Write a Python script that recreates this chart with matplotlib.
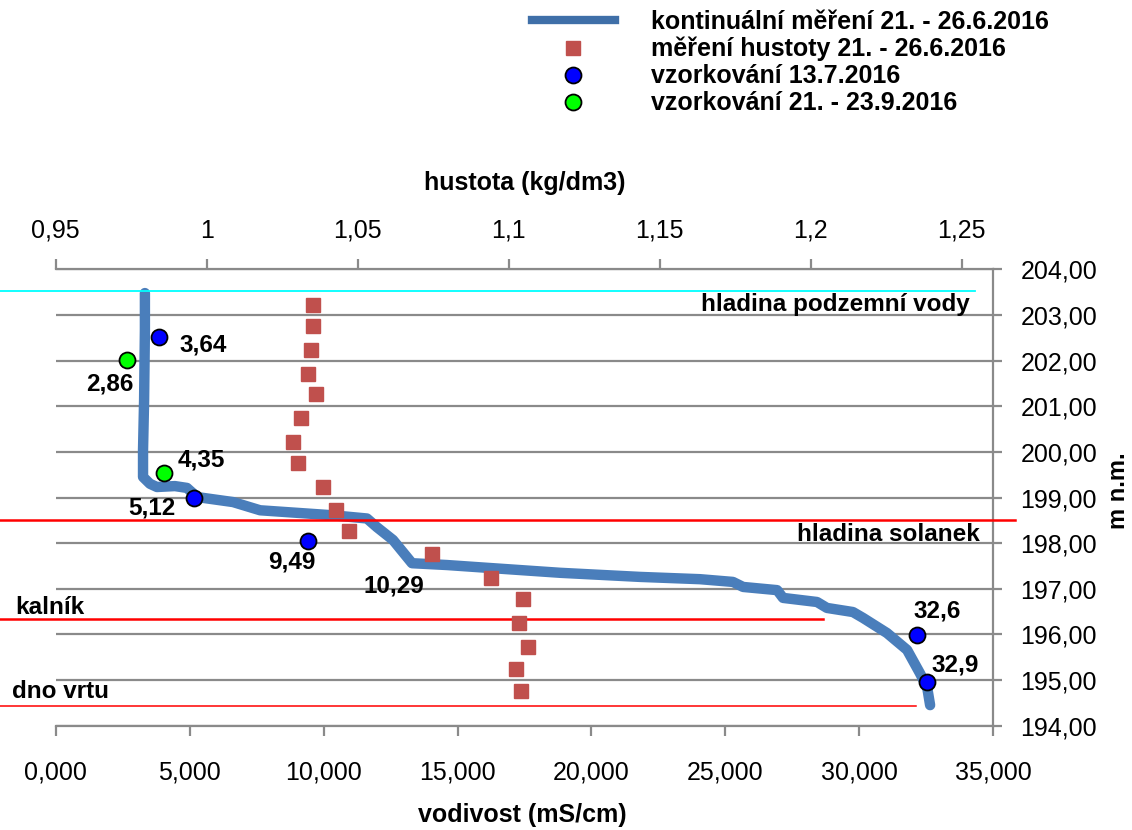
import matplotlib
matplotlib.use('Agg')
import matplotlib.pyplot as plt
from matplotlib.lines import Line2D
from matplotlib.ticker import FuncFormatter, MultipleLocator

# continuous conductivity log (mS/cm) vs elevation (m n.m.)
cond_x = [3.33, 3.33, 3.30, 3.26, 3.26, 3.52, 3.78, 4.45, 4.90, 5.28, 6.62, 7.63,
          10.35, 11.62, 11.99, 12.59, 13.30, 14.61, 15.84, 18.83, 21.81, 24.05,
          25.28, 25.66, 26.93, 27.15, 28.42, 28.79, 29.76, 30.14, 31.03, 31.78,
          32.26, 32.53, 32.64]
cond_y = [203.48, 202.67, 201.14, 200.04, 199.45, 199.30, 199.23, 199.25, 199.21,
          199.01, 198.90, 198.72, 198.61, 198.54, 198.35, 198.07, 197.56, 197.52,
          197.47, 197.35, 197.26, 197.21, 197.15, 197.04, 196.97, 196.80, 196.71,
          196.58, 196.49, 196.36, 196.03, 195.66, 195.15, 194.84, 194.45]

# density (kg/dm3)
dens_x = [1.0352, 1.0352, 1.0345, 1.0335, 1.0362, 1.0312, 1.0286, 1.0302, 1.0385,
          1.0428, 1.0471, 1.0746, 1.0941, 1.1047, 1.1034, 1.1064, 1.1024, 1.1040]
dens_y = [203.22, 202.76, 202.23, 201.71, 201.27, 200.74, 200.22, 199.76, 199.24,
          198.73, 198.27, 197.76, 197.24, 196.78, 196.26, 195.73, 195.24, 194.76]

# sampling 13.7.2016
blue_x = [3.86, 5.16, 9.43, 32.14, 32.53]
blue_y = [202.52, 198.99, 198.05, 195.99, 194.96]
blue_lbl = ['3,64', '5,12', '9,49', '32,6', '32,9']
blue_off = [(32, -6), (-30, -7), (-12, -15), (15, 17), (20, 12)]

# sampling 21. - 23.9.2016
green_x = [2.66, 4.04]
green_y = [202.01, 199.54]
green_lbl = ['2,86', '4,35']
green_off = [(-12, -17), (27, 9)]

# levels: (elevation, x start, x end, colour, width, text, text x, text y, align)
levels = [
    (203.53, -2.08, 34.32, '#00FFFF', 1.3, 'hladina podzemní vody', 34.13, 203.22, 'right'),
    (198.51, -2.08, 35.81, '#FF0000', 1.8, 'hladina solanek', 34.50, 198.18, 'right'),
    (196.34, -2.08, 28.64, '#FF0000', 1.8, 'kalník', -1.52, 196.60, 'left'),
    (194.43, -2.08, 32.12, '#FF0000', 1.1, 'dno vrtu', -1.63, 194.74, 'left'),
]

GRAY = '#8a8a8a'
FONT = ['Liberation Sans', 'DejaVu Sans']
TICK_SIZE = 18
LBL_SIZE = 17.5

fig = plt.figure(figsize=(11.32, 8.30), dpi=100)
ax = fig.add_axes([0.0492, 0.1257, 0.8283, 0.5498])
ax.set_xlim(0, 35)
ax.set_ylim(194, 204)

ax.plot(cond_x, cond_y, color='#4A7EBB', lw=7.5, solid_capstyle='round',
        solid_joinstyle='round', zorder=3)

for lev, x0, x1, col, lw, txt, tx, ty, ha in levels:
    ax.plot([x0, x1], [lev, lev], color=col, lw=lw, clip_on=False, zorder=4)
    ax.text(tx, ty, txt, ha=ha, va='center', fontsize=LBL_SIZE, fontweight='bold',
            family=FONT, zorder=6, clip_on=False)

ax.plot(blue_x, blue_y, 'o', ms=11.5, mfc='#0000FF', mec='black', mew=1.3, zorder=5)
ax.plot(green_x, green_y, 'o', ms=11.5, mfc='#00FF00', mec='black', mew=1.3, zorder=5)
for x, y, t, off in zip(blue_x + green_x, blue_y + green_y,
                        blue_lbl + green_lbl, blue_off + green_off):
    ax.annotate(t, (x, y), xytext=off, textcoords='offset points', ha='center',
                va='center', fontsize=LBL_SIZE, fontweight='bold', family=FONT, zorder=6)
ax.text(12.61, 197.05, '10,29', ha='center', va='center', fontsize=LBL_SIZE,
        fontweight='bold', family=FONT, zorder=6)

# axes styling
ax.yaxis.set_major_locator(MultipleLocator(1))
ax.xaxis.set_major_locator(MultipleLocator(5))
ax.grid(axis='y', color=GRAY, lw=1.6, zorder=0)
ax.set_axisbelow(True)
ax.yaxis.tick_right()
ax.spines['left'].set_visible(False)
ax.spines['top'].set_visible(False)
for s in ('right', 'bottom'):
    ax.spines[s].set_color(GRAY)
    ax.spines[s].set_linewidth(1.6)
ax.tick_params(axis='y', direction='out', length=6.5, width=1.6, color=GRAY,
               pad=13, labelsize=TICK_SIZE, right=True, left=False)
ax.tick_params(axis='x', direction='out', length=7, width=1.6, color=GRAY,
               pad=18, labelsize=TICK_SIZE)
for lab in ax.get_xticklabels() + ax.get_yticklabels():
    lab.set_family(FONT)
ax.xaxis.set_major_formatter(FuncFormatter(lambda v, p: f'{v:.3f}'.replace('.', ',')))
ax.yaxis.set_major_formatter(FuncFormatter(lambda v, p: f'{v:.2f}'.replace('.', ',')))

ax.set_xlabel('vodivost (mS/cm)', fontsize=18, fontweight='bold', family=FONT, va='center')
ax.xaxis.set_label_coords(0.498, -0.196)
ax.yaxis.set_label_position('right')
ax.set_ylabel('m n.m.', fontsize=17, fontweight='bold', family=FONT, rotation=90,
              va='center', ha='center')
ax.yaxis.set_label_coords(1.133, 0.516)

# secondary (density) axis
ax2 = ax.twiny()
ax2.set_xlim(0.95, 1.2605)
ax2.plot(dens_x, dens_y, 's', ms=9.5, color='#C0504D', zorder=3)
ax2.xaxis.set_major_locator(MultipleLocator(0.05))
ax2.xaxis.set_major_formatter(FuncFormatter(lambda v, p: f'{round(v, 2):g}'.replace('.', ',')))
for s in ('left', 'right', 'bottom'):
    ax2.spines[s].set_visible(False)
ax2.spines['top'].set_color(GRAY)
ax2.spines['top'].set_linewidth(1.6)
ax2.tick_params(axis='x', direction='out', length=7, width=1.6, color=GRAY,
                pad=12, labelsize=TICK_SIZE)
for lab in ax2.get_xticklabels():
    lab.set_family(FONT)
ax2.set_xlabel('hustota (kg/dm3)', fontsize=18, fontweight='bold', family=FONT, va='center')
ax2.xaxis.set_label_coords(0.5, 1.189)

handles = [
    Line2D([], [], color='#3F6FA8', lw=6),
    Line2D([], [], ls='none', marker='s', ms=9.5, color='#C0504D'),
    Line2D([], [], ls='none', marker='o', ms=11.5, mfc='#0000FF', mec='black', mew=1.3),
    Line2D([], [], ls='none', marker='o', ms=11.5, mfc='#00FF00', mec='black', mew=1.3),
]
labels = ['kontinuální měření 21. - 26.6.2016', 'měření hustoty 21. - 26.6.2016',
          'vzorkování 13.7.2016', 'vzorkování 21. - 23.9.2016']
fig.legend(handles, labels, loc='upper left', bbox_to_anchor=(0.47, 0.988),
           frameon=False, borderpad=0, borderaxespad=0, handlelength=3.3,
           handletextpad=1.45, labelspacing=0.12,
           prop={'family': FONT, 'weight': 'bold', 'size': 18})

fig.savefig('out.png', dpi=100)
